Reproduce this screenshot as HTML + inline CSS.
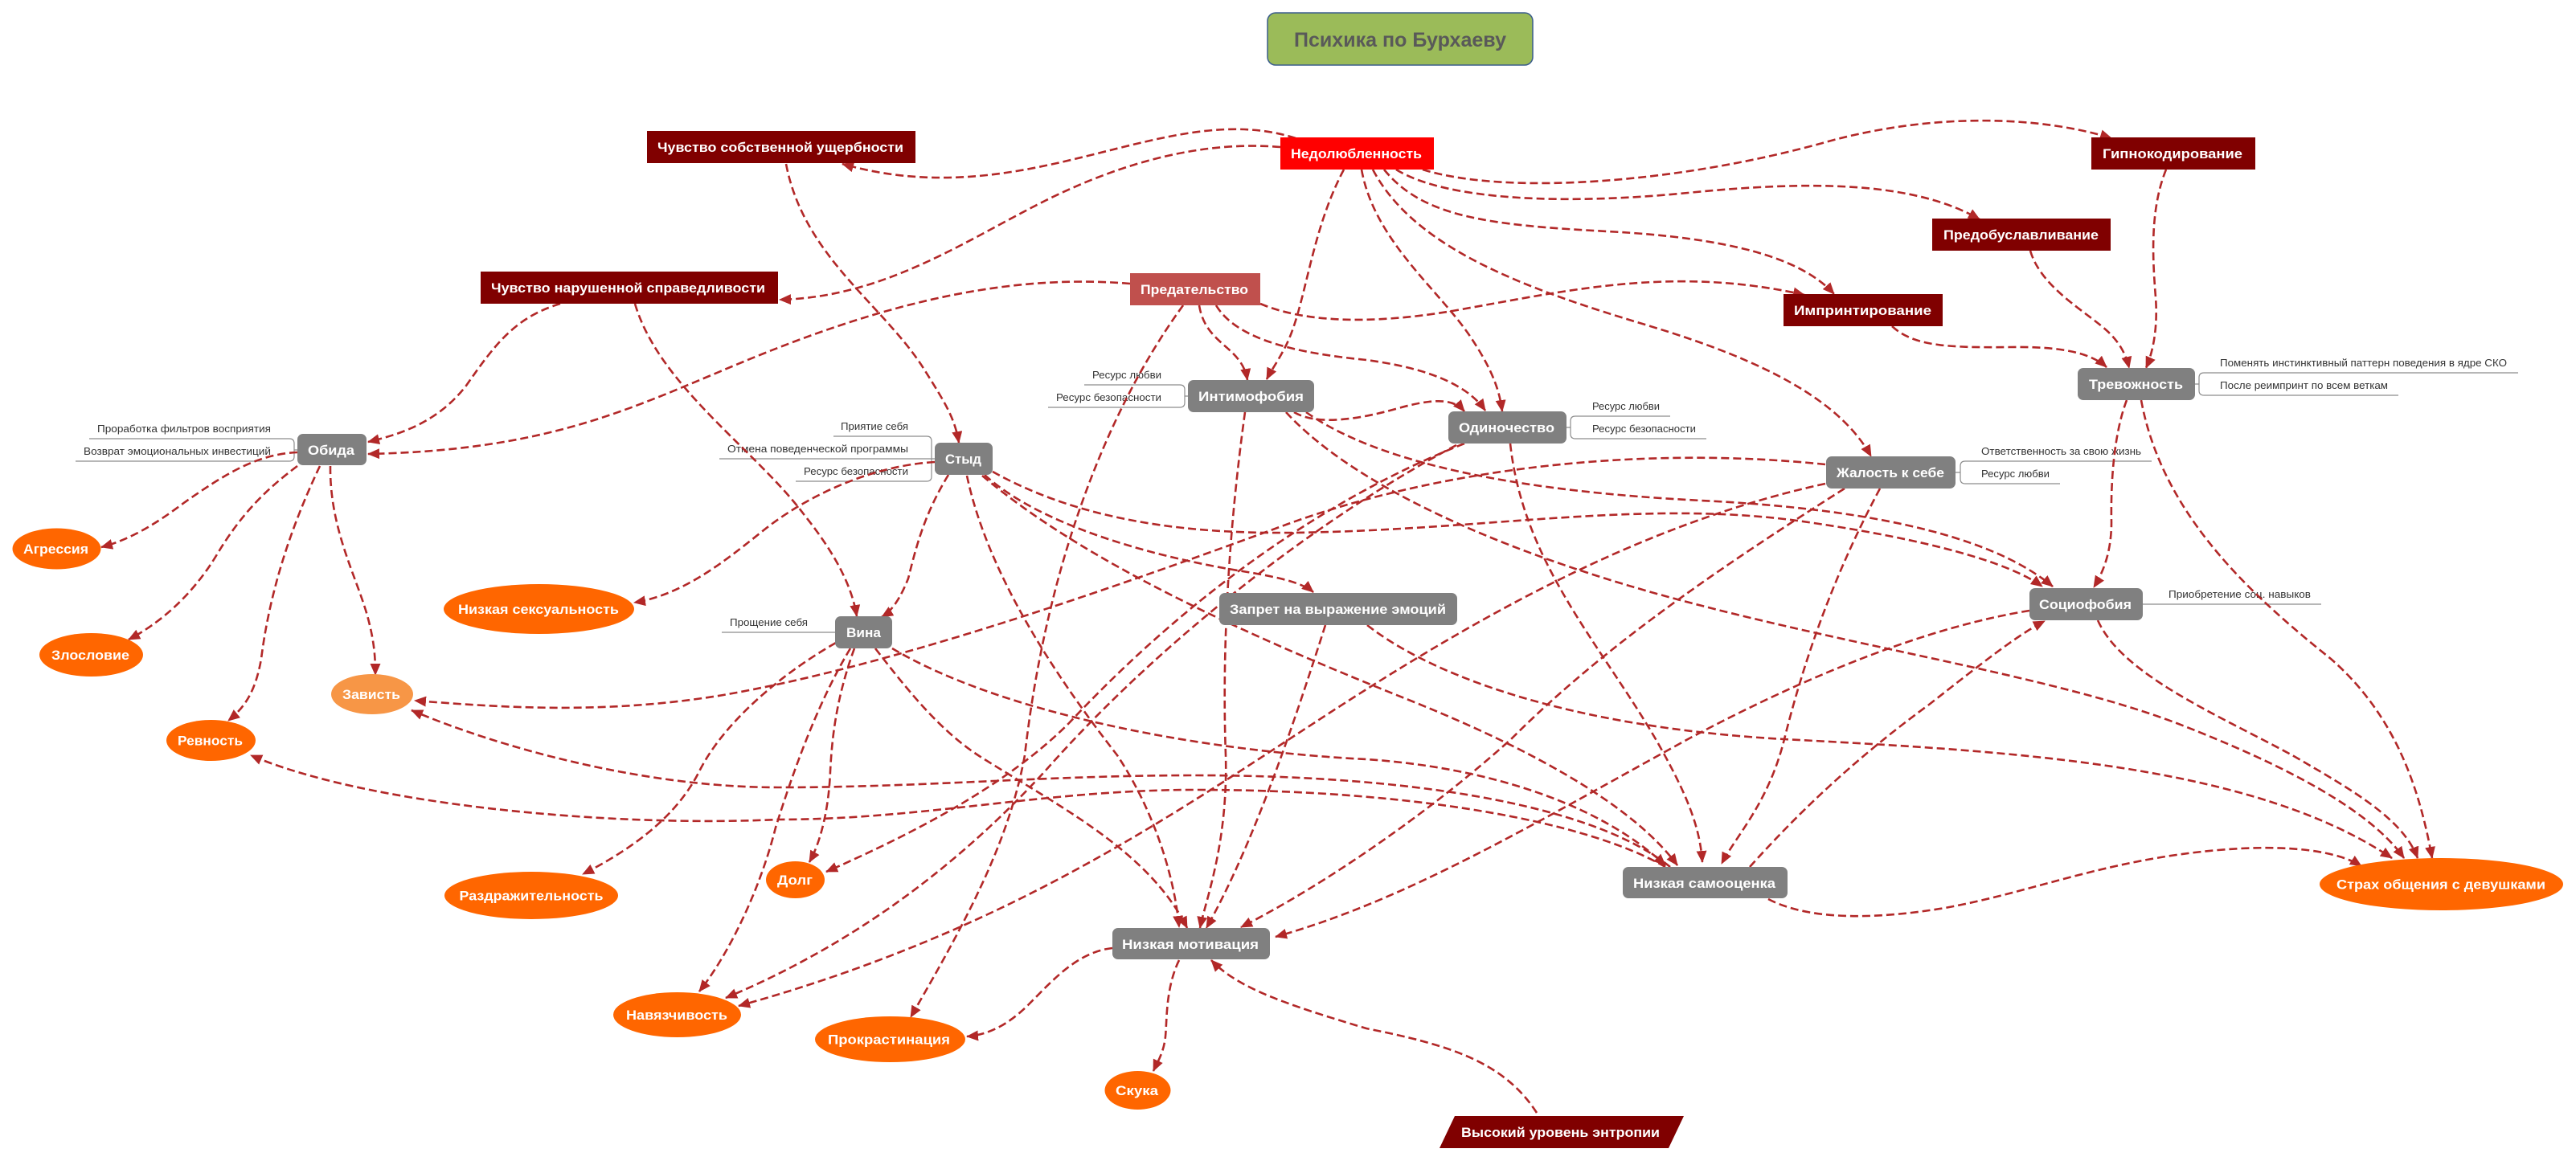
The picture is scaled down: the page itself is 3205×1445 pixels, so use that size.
<!DOCTYPE html>
<html><head><meta charset="utf-8"><style>
html,body{margin:0;padding:0;background:#fff;}
svg{display:block;}
.e{fill:none;stroke:#B22828;stroke-width:2.6;stroke-dasharray:10 5;marker-end:url(#a);}
.t{font-family:"Liberation Sans","DejaVu Sans",sans-serif;font-weight:bold;font-size:17px;fill:#fff;}
.s{font-family:"Liberation Sans","DejaVu Sans",sans-serif;font-size:12.5px;fill:#333;}
.l{fill:none;stroke:#8c8c8c;stroke-width:1.2;}
.dr{fill:#800000;}
.gr{fill:#808080;}
.or{fill:#FF6600;}
</style></head><body>
<svg width="3205" height="1445" viewBox="0 0 3205 1445" xmlns="http://www.w3.org/2000/svg">
<defs>
<marker id="a" markerUnits="userSpaceOnUse" markerWidth="16" markerHeight="14" refX="14" refY="6.5" orient="auto"><path d="M0,0 L15,6.5 L0,13 Z" fill="#B22828"/></marker>
</defs>

<!-- side labels -->
<g>
<path class="l" d="M111,546 H360 Q366,546 366,552 V568 Q366,574 360,574 H94 M366,560 H370"/>
<text class="s" x="121" y="538" textLength="216" lengthAdjust="spacingAndGlyphs">Проработка фильтров восприятия</text>
<text class="s" x="104" y="566" textLength="233" lengthAdjust="spacingAndGlyphs">Возврат эмоциональных инвестиций</text>

<path class="l" d="M1037,543 H1153 Q1159,543 1159,549 V593 Q1159,599 1153,599 H990 M895,571 H1163"/>
<text class="s" x="1046" y="535" textLength="84" lengthAdjust="spacingAndGlyphs">Приятие себя</text>
<text class="s" x="905" y="563" textLength="225" lengthAdjust="spacingAndGlyphs">Отмена поведенческой программы</text>
<text class="s" x="1000" y="591" textLength="130" lengthAdjust="spacingAndGlyphs">Ресурс безопасности</text>

<path class="l" d="M1349,479 H1468 Q1474,479 1474,485 V501 Q1474,507 1468,507 H1304 M1474,493 H1478"/>
<text class="s" x="1359" y="471" textLength="86" lengthAdjust="spacingAndGlyphs">Ресурс любви</text>
<text class="s" x="1314" y="499" textLength="131" lengthAdjust="spacingAndGlyphs">Ресурс безопасности</text>

<path class="l" d="M898,787 H1039"/>
<text class="s" x="908" y="779" textLength="97" lengthAdjust="spacingAndGlyphs">Прощение себя</text>

<path class="l" d="M2078,518 H1960 Q1954,518 1954,524 V540 Q1954,546 1960,546 H2123 M1949,532 H1954"/>
<text class="s" x="1981" y="510" textLength="84" lengthAdjust="spacingAndGlyphs">Ресурс любви</text>
<text class="s" x="1981" y="538" textLength="129" lengthAdjust="spacingAndGlyphs">Ресурс безопасности</text>

<path class="l" d="M2677,574 H2445 Q2439,574 2439,580 V596 Q2439,602 2445,602 H2563 M2433,588 H2439"/>
<text class="s" x="2465" y="566" textLength="199" lengthAdjust="spacingAndGlyphs">Ответственность за свою жизнь</text>
<text class="s" x="2465" y="594" textLength="85" lengthAdjust="spacingAndGlyphs">Ресурс любви</text>

<path class="l" d="M3133,464 H2742 Q2736,464 2736,470 V486 Q2736,492 2742,492 H2984 M2731,478 H2736"/>
<text class="s" x="2762" y="456" textLength="357" lengthAdjust="spacingAndGlyphs">Поменять инстинктивный паттерн поведения в ядре СКО</text>
<text class="s" x="2762" y="484" textLength="209" lengthAdjust="spacingAndGlyphs">После реимпринт по всем веткам</text>

<path class="l" d="M2666,752 H2888"/>
<text class="s" x="2698" y="744" textLength="177" lengthAdjust="spacingAndGlyphs">Приобретение соц. навыков</text>
</g>

<!-- edges -->
<g>
<path class="e" d="M1612,172 C1450,120 1280,270 1048,204"/>
<path class="e" d="M1593,183 C1500,175 1400,200 1300,250 C1200,300 1100,370 970,373"/>
<path class="e" d="M1770,211 C1880,245 2100,225 2271,177 C2408,139 2540,145 2627,172"/>
<path class="e" d="M1737,211 C1800,250 1950,255 2100,240 C2250,225 2380,225 2463,273"/>
<path class="e" d="M1722,211 C1770,270 1850,280 2000,288 C2150,296 2240,320 2282,366"/>
<path class="e" d="M1708,211 C1760,310 1900,360 2050,405 C2200,450 2290,500 2328,568"/>
<path class="e" d="M1694,211 C1710,300 1790,360 1830,420 C1860,465 1866,490 1869,512"/>
<path class="e" d="M1672,211 C1630,290 1625,380 1600,430 C1590,450 1582,460 1576,472"/>

<path class="e" d="M1568,378 C1620,400 1700,405 1807,387 C1950,362 2080,330 2245,367"/>
<path class="e" d="M1492,380 C1500,430 1545,430 1552,473"/>
<path class="e" d="M1513,380 C1540,425 1620,440 1700,448 C1790,460 1830,485 1848,511"/>
<path class="e" d="M1406,353 C1250,340 1100,380 950,440 C800,500 700,560 458,565"/>
<path class="e" d="M1472,380 C1370,520 1300,720 1275,940 C1255,1050 1200,1150 1133,1266"/>

<path class="e" d="M697,378 C640,395 615,430 580,480 C545,525 500,540 458,550"/>
<path class="e" d="M790,378 C820,480 940,560 1000,640 C1040,690 1060,730 1066,767"/>
<path class="e" d="M978,204 C1000,320 1100,380 1150,460 C1175,500 1188,520 1193,551"/>

<path class="e" d="M370,563 C320,565 280,590 230,625 C190,655 160,672 126,681"/>
<path class="e" d="M370,580 C330,610 300,640 270,690 C240,740 200,775 160,796"/>
<path class="e" d="M398,580 C360,660 335,740 325,820 C318,860 305,880 284,897"/>
<path class="e" d="M411,580 C410,660 445,720 458,770 C466,800 467,820 467,840"/>

<path class="e" d="M1163,575 C1080,580 1000,620 950,660 C900,700 850,740 789,750"/>
<path class="e" d="M1180,591 C1150,640 1140,680 1130,720 C1120,745 1110,760 1097,768"/>
<path class="e" d="M1203,592 C1230,720 1320,850 1390,940 C1430,1000 1460,1080 1467,1154"/>
<path class="e" d="M1225,591 C1290,650 1420,690 1540,710 C1590,718 1620,725 1634,737"/>
<path class="e" d="M1235,587 C1330,640 1450,665 1610,663 C1850,660 2050,620 2250,650 C2400,672 2500,700 2541,730"/>
<path class="e" d="M1222,592 C1350,700 1550,790 1750,870 C1900,930 2030,1000 2087,1077"/>

<path class="e" d="M1610,513 C1635,528 1680,525 1740,508 C1790,494 1810,498 1822,512"/>
<path class="e" d="M1625,513 C1720,580 1900,612 2117,623 C2300,632 2470,660 2554,730"/>
<path class="e" d="M1600,513 C1680,600 1850,680 2065,740 C2300,805 2550,840 2708,900 C2850,955 2950,1010 2991,1068"/>
<path class="e" d="M1549,513 C1530,650 1520,800 1525,940 C1528,1050 1500,1120 1493,1155"/>

<path class="e" d="M1822,552 C1650,620 1480,740 1330,900 C1250,980 1130,1040 1028,1085"/>
<path class="e" d="M1812,554 C1650,640 1450,790 1300,960 C1180,1090 1050,1180 903,1242"/>
<path class="e" d="M1879,552 C1895,700 1990,800 2060,920 C2100,990 2115,1030 2118,1073"/>

<path class="e" d="M2271,578 C2050,555 1800,580 1600,653 C1350,745 1100,830 900,865 C750,890 620,880 516,872"/>
<path class="e" d="M2271,602 C2050,650 1850,760 1650,890 C1450,1020 1250,1160 919,1252"/>
<path class="e" d="M2295,608 C2150,700 2000,800 1880,920 C1780,1010 1650,1100 1544,1154"/>
<path class="e" d="M2339,608 C2290,700 2250,800 2220,920 C2200,1000 2160,1040 2142,1075"/>

<path class="e" d="M2525,760 C2400,780 2250,840 2100,920 C1900,1030 1750,1120 1587,1166"/>
<path class="e" d="M2610,772 C2640,840 2760,890 2852,940 C2930,985 2990,1020 3008,1068"/>
<path class="e" d="M2646,498 C2630,540 2626,600 2627,650 C2627,690 2615,715 2605,731"/>
<path class="e" d="M2664,498 C2690,640 2800,740 2900,820 C2980,890 3010,980 3026,1068"/>

<path class="e" d="M2354,406 C2380,430 2420,433 2500,432 C2560,431 2600,438 2621,457"/>
<path class="e" d="M2526,312 C2540,360 2600,390 2625,415 C2640,430 2646,445 2649,458"/>
<path class="e" d="M2695,211 C2675,260 2678,320 2682,370 C2685,410 2678,440 2670,458"/>

<path class="e" d="M1701,778 C1780,840 1950,905 2220,920 C2500,935 2800,950 2976,1068"/>
<path class="e" d="M1649,778 C1610,900 1560,1050 1501,1155"/>

<path class="e" d="M1040,800 C970,840 900,900 870,960 C840,1020 780,1060 725,1088"/>
<path class="e" d="M1058,807 C1020,870 990,950 965,1030 C945,1110 905,1190 870,1234"/>
<path class="e" d="M1063,807 C1040,870 1035,920 1033,960 C1031,1010 1020,1050 1007,1073"/>
<path class="e" d="M1089,807 C1130,860 1170,910 1220,942 C1320,1005 1430,1060 1477,1155"/>
<path class="e" d="M1110,807 C1250,890 1500,935 1700,945 C1850,955 1990,1000 2072,1077"/>

<path class="e" d="M2078,1079 C1980,1000 1750,965 1487,965 C1300,965 1150,980 968,980 C800,980 620,930 512,884"/>
<path class="e" d="M2072,1079 C1970,1020 1750,983 1487,983 C1300,983 1150,1020 968,1020 C750,1030 450,1000 312,940"/>
<path class="e" d="M2177,1079 C2230,1020 2300,950 2400,877 C2460,830 2510,790 2544,773"/>
<path class="e" d="M2200,1119 C2250,1145 2330,1145 2420,1130 C2530,1110 2620,1070 2760,1058 C2850,1050 2910,1060 2938,1078"/>

<path class="e" d="M1384,1180 C1340,1185 1310,1220 1280,1250 C1255,1275 1230,1288 1203,1290"/>
<path class="e" d="M1467,1195 C1450,1230 1452,1270 1450,1290 C1448,1310 1440,1322 1435,1333"/>
<path class="e" d="M1912,1385 C1870,1320 1800,1300 1700,1280 C1600,1250 1540,1230 1507,1195"/>
</g>

<!-- nodes -->
<g>
<rect x="1577" y="16" width="330" height="65" rx="10" fill="#9BBB59" stroke="#3B5D8C" stroke-width="1.5"/>
<text class="t" x="1610" y="58" style="font-size:25px;fill:#595959" textLength="264" lengthAdjust="spacingAndGlyphs">Психика по Бурхаеву</text>

<rect class="dr" x="805" y="163" width="334" height="40"/>
<text class="t" x="818" y="189" textLength="306" lengthAdjust="spacingAndGlyphs">Чувство собственной ущербности</text>
<rect x="1593" y="171" width="191" height="40" fill="#FF0000"/>
<text class="t" x="1606" y="197" textLength="163" lengthAdjust="spacingAndGlyphs">Недолюбленность</text>
<rect class="dr" x="2602" y="171" width="204" height="40"/>
<text class="t" x="2616" y="197" textLength="174" lengthAdjust="spacingAndGlyphs">Гипнокодирование</text>
<rect class="dr" x="2404" y="272" width="222" height="40"/>
<text class="t" x="2418" y="298" textLength="193" lengthAdjust="spacingAndGlyphs">Предобуславливание</text>
<rect class="dr" x="598" y="338" width="370" height="40"/>
<text class="t" x="611" y="364" textLength="341" lengthAdjust="spacingAndGlyphs">Чувство нарушенной справедливости</text>
<rect x="1406" y="340" width="162" height="40" fill="#C0504D"/>
<text class="t" x="1419" y="366" textLength="134" lengthAdjust="spacingAndGlyphs">Предательство</text>
<rect class="dr" x="2219" y="366" width="198" height="40"/>
<text class="t" x="2232" y="392" textLength="171" lengthAdjust="spacingAndGlyphs">Импринтирование</text>

<rect class="gr" x="2585" y="458" width="146" height="40" rx="7"/>
<text class="t" x="2599" y="484" textLength="117" lengthAdjust="spacingAndGlyphs">Тревожность</text>
<rect class="gr" x="1478" y="473" width="157" height="40" rx="7"/>
<text class="t" x="1491" y="499" textLength="131" lengthAdjust="spacingAndGlyphs">Интимофобия</text>
<rect class="gr" x="1802" y="512" width="147" height="40" rx="7"/>
<text class="t" x="1815" y="538" textLength="119" lengthAdjust="spacingAndGlyphs">Одиночество</text>
<rect class="gr" x="370" y="540" width="86" height="39" rx="7"/>
<text class="t" x="383" y="566" textLength="58" lengthAdjust="spacingAndGlyphs">Обида</text>
<rect class="gr" x="1163" y="551" width="72" height="40" rx="7"/>
<text class="t" x="1176" y="577" textLength="45" lengthAdjust="spacingAndGlyphs">Стыд</text>
<rect class="gr" x="2272" y="568" width="161" height="40" rx="7"/>
<text class="t" x="2285" y="594" textLength="134" lengthAdjust="spacingAndGlyphs">Жалость к себе</text>
<rect class="gr" x="2525" y="732" width="141" height="40" rx="7"/>
<text class="t" x="2537" y="758" textLength="115" lengthAdjust="spacingAndGlyphs">Социофобия</text>
<rect class="gr" x="1517" y="738" width="296" height="40" rx="7"/>
<text class="t" x="1530" y="764" textLength="269" lengthAdjust="spacingAndGlyphs">Запрет на выражение эмоций</text>
<rect class="gr" x="1039" y="767" width="71" height="40" rx="7"/>
<text class="t" x="1053" y="793" textLength="43" lengthAdjust="spacingAndGlyphs">Вина</text>
<rect class="gr" x="2019" y="1079" width="205" height="39" rx="7"/>
<text class="t" x="2032" y="1105" textLength="177" lengthAdjust="spacingAndGlyphs">Низкая самооценка</text>
<rect class="gr" x="1384" y="1155" width="196" height="39" rx="7"/>
<text class="t" x="1396" y="1181" textLength="170" lengthAdjust="spacingAndGlyphs">Низкая мотивация</text>

<polygon class="dr" points="1810,1389 2095,1389 2076,1429 1791,1429"/>
<text class="t" x="1818" y="1415" textLength="247" lengthAdjust="spacingAndGlyphs">Высокий уровень энтропии</text>

<ellipse class="or" cx="70.5" cy="683" rx="55" ry="25.5"/>
<text class="t" x="29" y="689" textLength="81" lengthAdjust="spacingAndGlyphs">Агрессия</text>
<ellipse class="or" cx="113.5" cy="815" rx="64.5" ry="27"/>
<text class="t" x="64" y="821" textLength="97" lengthAdjust="spacingAndGlyphs">Злословие</text>
<ellipse class="or" cx="262.5" cy="921.5" rx="55.5" ry="25.5"/>
<text class="t" x="221" y="927.5" textLength="81" lengthAdjust="spacingAndGlyphs">Ревность</text>
<ellipse cx="463" cy="864" rx="51" ry="25" fill="#F79646"/>
<text class="t" x="426" y="870" textLength="72" lengthAdjust="spacingAndGlyphs">Зависть</text>
<ellipse class="or" cx="670.5" cy="758" rx="118.5" ry="31"/>
<text class="t" x="570" y="764" textLength="200" lengthAdjust="spacingAndGlyphs">Низкая сексуальность</text>
<ellipse class="or" cx="661" cy="1114.5" rx="108" ry="29.5"/>
<text class="t" x="571.5" y="1120.5" textLength="179" lengthAdjust="spacingAndGlyphs">Раздражительность</text>
<ellipse class="or" cx="989.5" cy="1095" rx="36.5" ry="23"/>
<text class="t" x="967" y="1101" textLength="44" lengthAdjust="spacingAndGlyphs">Долг</text>
<ellipse class="or" cx="842.5" cy="1263" rx="79.5" ry="28"/>
<text class="t" x="779" y="1269" textLength="126" lengthAdjust="spacingAndGlyphs">Навязчивость</text>
<ellipse class="or" cx="1107.5" cy="1293.5" rx="93.5" ry="28.5"/>
<text class="t" x="1030" y="1299.5" textLength="152" lengthAdjust="spacingAndGlyphs">Прокрастинация</text>
<ellipse class="or" cx="1415.5" cy="1357" rx="41" ry="24"/>
<text class="t" x="1388" y="1363" textLength="53" lengthAdjust="spacingAndGlyphs">Скука</text>
<ellipse class="or" cx="3037.5" cy="1100.5" rx="151.5" ry="32.5"/>
<text class="t" x="2907" y="1106.5" textLength="260" lengthAdjust="spacingAndGlyphs">Страх общения с девушками</text>
</g>
</svg>
</body></html>
